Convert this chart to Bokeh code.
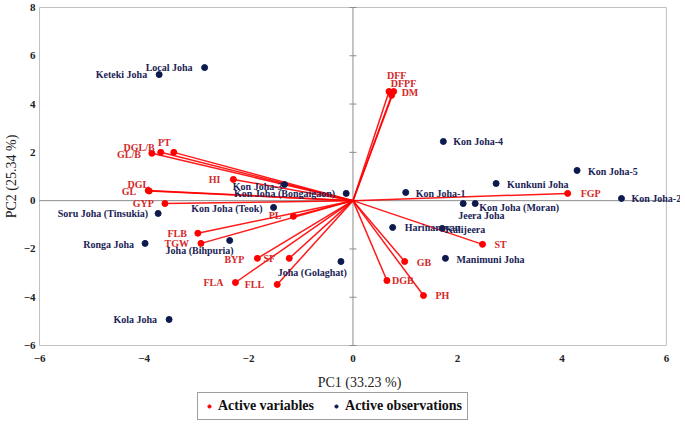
import numpy as np
from bokeh.plotting import figure
from bokeh.layouts import column
from bokeh.models import (ColumnDataSource, LabelSet, FixedTicker,
                          Legend, LegendItem, Range1d)
from bokeh.embed import file_html
from bokeh.resources import INLINE

# ---------------- data ----------------
var_names = ["DFF", "DFPF", "DM", "FGP", "ST", "GB", "DGB", "PH",
             "PT", "DGL/B", "GL/B", "HI", "DGL", "GL", "GYP", "PL",
             "FLB", "TGW", "BYP", "SF", "FLA", "FLL"]
var_pc1 = [0.69, 0.78, 0.74, 4.11, 2.48, 0.99, 0.65, 1.35,
           -3.43, -3.68, -3.85, -2.29, -3.92, -3.90, -3.60, -1.14,
           -2.97, -2.91, -1.83, -1.22, -2.25, -1.45]
var_pc2 = [4.52, 4.52, 4.36, 0.30, -1.81, -2.52, -3.31, -3.93,
           2.00, 2.00, 1.96, 0.88, 0.42, 0.40, -0.12, -0.65,
           -1.35, -1.77, -2.39, -2.39, -3.39, -3.47]

obs_names = ["Keteki Joha", "Local Joha", "Kon Joha-3", "Kon Joha (Bongaigaon)",
             "Soru Joha (Tinsukia)", "Kon Joha (Teok)", "Ronga Joha", "Joha (Bihpuria)",
             "Joha (Golaghat)", "Kola Joha", "Kon Joha-4", "Kon Joha-5", "Kunkuni Joha",
             "Kon Joha-1", "Kon Joha-2", "Kon Joha (Moran)", "Jeera Joha", "Harinarayan",
             "Kalijeera", "Manimuni Joha"]
obs_pc1 = [-3.71, -2.84, -1.31, -0.13, -3.73, -1.52, -3.98, -2.36, -0.23, -3.52,
           1.73, 4.29, 2.74, 1.01, 5.14, 2.34, 2.11, 0.76, 1.71, 1.77]
obs_pc2 = [5.22, 5.51, 0.67, 0.30, -0.53, -0.28, -1.77, -1.65, -2.52, -4.92,
           2.45, 1.25, 0.71, 0.34, 0.09, -0.12, -0.12, -1.11, -1.15, -2.39]

x_ticks = [-6, -4, -2, 0, 2, 4, 6]
y_ticks = [-6, -4, -2, 0, 2, 4, 6, 8]
x_title = "PC1 (33.23 %)"
y_title = "PC2 (25.34 %)"
legend_labels = ["Active variables", "Active observations"]

# ---------------- label placement (screen px) ----------------
var_dx = [-2, -3, 10, 13, 12, 12, 5, 12, -3, -6, -11, -13, 1, -13, -11, -12,
          -11, -12, -13, -14, -12, -13]
var_dy = [16, 8, 3, 0, 0, -1, 0, 0, 10, 5, -1, 0, 6, -1, 0, 1, 0, 0, -1, 0, 0, 0]
var_align = ["left"] * 8 + ["right"] * 14

obs_dx = [-12, -12, -2, -11, -10, -11, -11, 4, 6, -12, 10, 11, 11, 10, 10, 4, -5, 12, 3, 11]
obs_dy = [0, 0, -2, 0, 0, -1, -1, -10, -11, 0, 0, -1, -1, -1, 0, -4, -12, 0, -1, -1]
obs_align = ["right"] * 10 + ["left"] * 10

SERIF = "Liberation Serif"
RED = "#ff0000"
RED_TXT = "#d42a2a"
NAVY = "#0d1a4d"
NAVY_TXT = "#1a2356"
AXIS_GRAY = "#8c8c8c"
FRAME_GRAY = "#bfbfbf"

var_src = ColumnDataSource(dict(x=var_pc1, y=var_pc2, x0=np.zeros(len(var_pc1)),
                                y0=np.zeros(len(var_pc2)), name=var_names,
                                dx=var_dx, dy=var_dy, align=var_align))
obs_src = ColumnDataSource(dict(x=obs_pc1, y=obs_pc2, name=obs_names,
                                dx=obs_dx, dy=obs_dy, align=obs_align))
tick_src = ColumnDataSource(dict(x=np.zeros(len(y_ticks)), y=y_ticks))

p = figure(frame_width=642, frame_height=340,
           x_range=Range1d(x_ticks[0] - 0.02, x_ticks[-1] + 0.27),
           y_range=Range1d(y_ticks[0] - 0.04, y_ticks[-1] + 0.04),
           output_backend="svg", toolbar_location=None,
           min_border_left=0, min_border_right=0, min_border_top=6, min_border_bottom=0)
p.grid.visible = False
p.outline_line_color = None
p.background_fill_color = "white"
p.border_fill_color = "white"

for ax, ticks in ((p.xaxis[0], x_ticks), (p.yaxis[0], y_ticks)):
    ax.ticker = FixedTicker(ticks=ticks)
    ax.axis_line_color = None
    ax.major_tick_line_color = None
    ax.minor_tick_line_color = None
    ax.major_tick_out = 0
    ax.major_tick_in = 0
    ax.major_label_text_font = SERIF
    ax.major_label_text_font_style = "bold"
    ax.major_label_text_font_size = "11px"
    ax.major_label_text_color = "#222222"
    ax.axis_label_text_font = SERIF
    ax.axis_label_text_font_style = "normal"
    ax.axis_label_text_font_size = "14px"
    ax.axis_label_text_color = "#222222"

p.xaxis.axis_label = x_title
p.yaxis.axis_label = y_title
p.xaxis.major_label_standoff = 8
p.xaxis.axis_label_standoff = 10
p.yaxis.major_label_standoff = 3
p.yaxis.axis_label_standoff = 2

# plot-area frame at the axis limits
p.quad(left=[x_ticks[0]], right=[x_ticks[-1]], bottom=[y_ticks[0]], top=[y_ticks[-1]],
       fill_color=None, line_color=FRAME_GRAY, line_width=1)
# zero lines, ticks on the vertical one
p.segment(x0=[x_ticks[0]], x1=[x_ticks[-1]], y0=[0], y1=[0], line_color=AXIS_GRAY, line_width=1)
p.segment(x0=[0], x1=[0], y0=[y_ticks[0]], y1=[y_ticks[-1]], line_color=AXIS_GRAY, line_width=1)
p.scatter("x", "y", source=tick_src, marker="dash", size=7, line_color=AXIS_GRAY, line_width=1)

# vectors
p.segment(x0="x0", y0="y0", x1="x", y1="y", source=var_src,
          line_color=RED, line_width=1.5, line_alpha=0.9)
p.scatter("x", "y", source=var_src, size=6, color=RED)
p.scatter("x", "y", source=obs_src, size=6, color=NAVY)

p.add_layout(LabelSet(x="x", y="y", text="name", source=var_src, x_offset="dx", y_offset="dy",
                      text_align="align", text_baseline="middle", text_font=SERIF,
                      text_font_style="bold", text_font_size="10px", text_color=RED_TXT))
p.add_layout(LabelSet(x="x", y="y", text="name", source=obs_src, x_offset="dx", y_offset="dy",
                      text_align="align", text_baseline="middle", text_font=SERIF,
                      text_font_style="bold", text_font_size="10px", text_color=NAVY_TXT))

# ---------------- legend strip ----------------
lg = figure(width=640, height=28, x_range=Range1d(0, 1), y_range=Range1d(0, 1),
            output_backend="svg", toolbar_location=None,
            min_border_left=0, min_border_right=0, min_border_top=0, min_border_bottom=0)
lg.axis.visible = False
lg.grid.visible = False
lg.outline_line_color = None
lg.background_fill_color = "white"
lg.border_fill_color = "white"
# legend proxies, kept outside the visible range of the strip
proxy = ColumnDataSource(dict(x=[5.0], y=[5.0]))
lr_var = lg.scatter("x", "y", source=proxy, size=5, color=RED)
lr_obs = lg.scatter("x", "y", source=proxy, size=5, color=NAVY)
legend = Legend(items=[LegendItem(label=legend_labels[0], renderers=[lr_var]),
                       LegendItem(label=legend_labels[1], renderers=[lr_obs])],
                orientation="horizontal", location=(159, 0),
                label_text_font=SERIF, label_text_font_style="bold",
                label_text_font_size="14px", label_text_color="#111111",
                border_line_color="#404040", border_line_width=1,
                glyph_width=12, glyph_height=8, label_standoff=3, spacing=16,
                padding=5, margin=0)
lg.add_layout(legend, "center")

layout = column(p, lg, spacing=0)
open("out.html", "w").write(file_html(layout, INLINE))
